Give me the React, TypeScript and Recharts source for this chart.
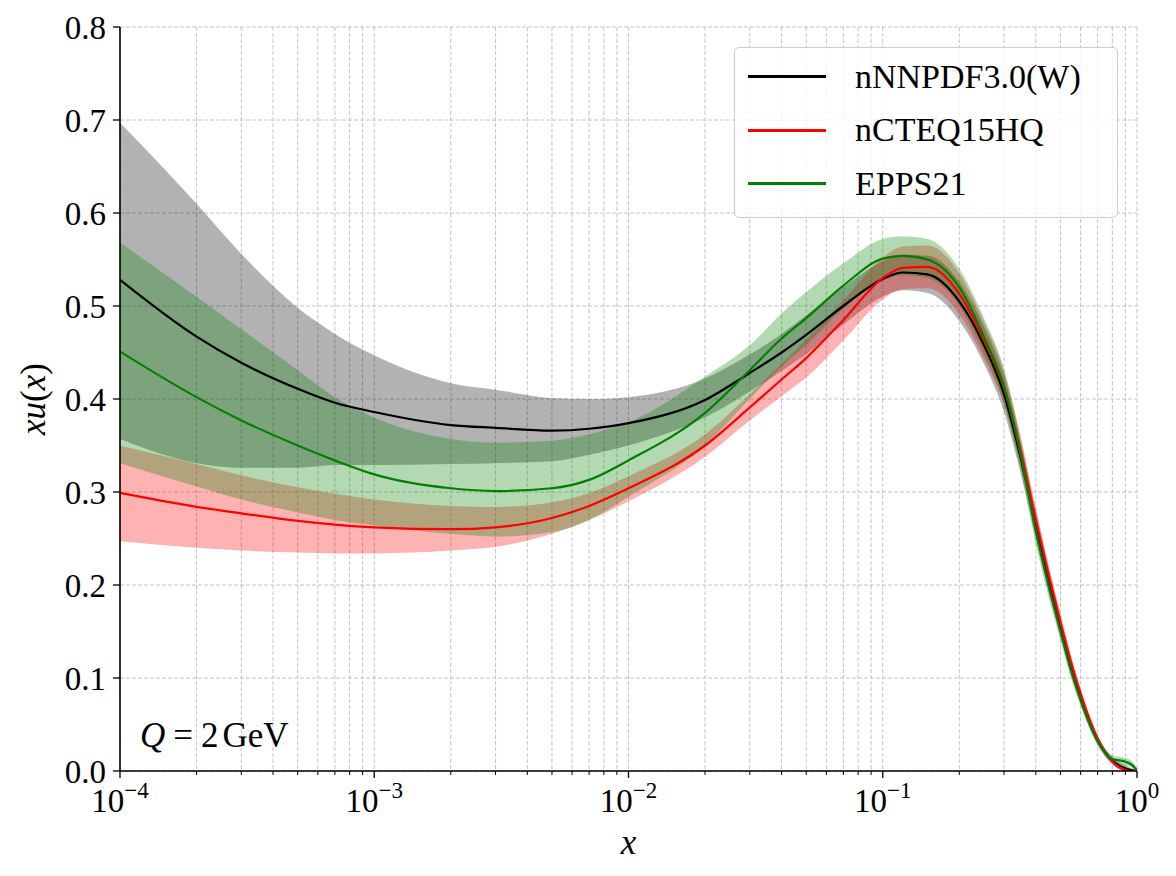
import React from 'react';
import { ComposedChart, Area, Line, XAxis, YAxis, CartesianGrid } from 'recharts';

// ---------------- data ----------------
const xValues = [1e-4, 2e-4, 3e-4, 5e-4, 7e-4, 1e-3, 2e-3, 3e-3, 5e-3, 7e-3, 1e-2, 2e-2, 3e-2, 4e-2, 5e-2, 7e-2, 0.1, 0.12, 0.15, 0.2, 0.25, 0.3, 0.35, 0.4, 0.45, 0.5, 0.55, 0.6, 0.7, 0.8, 0.9, 0.95, 1.0];

const nnpdfCentral = [0.528, 0.467, 0.439, 0.411, 0.396, 0.386, 0.372, 0.369, 0.366, 0.368, 0.374, 0.399, 0.428, 0.450, 0.469, 0.500, 0.529, 0.536, 0.534, 0.505, 0.458, 0.405, 0.335, 0.265, 0.205, 0.155, 0.113, 0.080, 0.033, 0.011, 0.003, 0.001, 0.0];
const nnpdfLow = [0.357, 0.331, 0.326, 0.326, 0.329, 0.329, 0.330, 0.331, 0.333, 0.340, 0.350, 0.380, 0.408, 0.430, 0.448, 0.480, 0.510, 0.517, 0.514, 0.484, 0.438, 0.386, 0.318, 0.250, 0.192, 0.145, 0.104, 0.073, 0.028, 0.007, 0.0, 0.0, 0.0];
const nnpdfHigh = [0.697, 0.610, 0.556, 0.498, 0.470, 0.447, 0.417, 0.410, 0.401, 0.400, 0.402, 0.422, 0.448, 0.470, 0.490, 0.520, 0.548, 0.555, 0.554, 0.526, 0.478, 0.424, 0.352, 0.280, 0.218, 0.166, 0.122, 0.087, 0.038, 0.015, 0.006, 0.003, 0.001];

const cteqCentral = [0.299, 0.284, 0.277, 0.269, 0.265, 0.262, 0.260, 0.262, 0.272, 0.285, 0.304, 0.350, 0.391, 0.421, 0.444, 0.485, 0.530, 0.541, 0.542, 0.513, 0.463, 0.412, 0.342, 0.270, 0.210, 0.160, 0.117, 0.083, 0.035, 0.010, 0.001, 0.0, 0.0];
const cteqLow = [0.247, 0.240, 0.237, 0.235, 0.234, 0.234, 0.237, 0.241, 0.255, 0.270, 0.290, 0.338, 0.377, 0.403, 0.423, 0.463, 0.507, 0.518, 0.519, 0.491, 0.443, 0.394, 0.326, 0.257, 0.199, 0.150, 0.109, 0.077, 0.031, 0.008, 0.0, 0.0, 0.0];
const cteqHigh = [0.350, 0.330, 0.318, 0.305, 0.298, 0.292, 0.285, 0.284, 0.289, 0.299, 0.317, 0.362, 0.405, 0.438, 0.464, 0.506, 0.552, 0.564, 0.565, 0.535, 0.483, 0.430, 0.358, 0.283, 0.221, 0.170, 0.125, 0.089, 0.039, 0.012, 0.002, 0.001, 0.0];

const eppsCentral = [0.451, 0.402, 0.377, 0.350, 0.334, 0.319, 0.304, 0.301, 0.304, 0.313, 0.334, 0.385, 0.431, 0.465, 0.487, 0.522, 0.551, 0.554, 0.550, 0.520, 0.467, 0.413, 0.338, 0.258, 0.198, 0.150, 0.108, 0.076, 0.032, 0.013, 0.010, 0.007, 0.001];
const eppsLow = [0.331, 0.306, 0.292, 0.278, 0.270, 0.264, 0.255, 0.252, 0.257, 0.270, 0.295, 0.350, 0.400, 0.435, 0.458, 0.497, 0.528, 0.533, 0.530, 0.500, 0.448, 0.395, 0.322, 0.244, 0.186, 0.140, 0.100, 0.070, 0.028, 0.010, 0.006, 0.004, 0.0];
const eppsHigh = [0.568, 0.510, 0.475, 0.431, 0.402, 0.380, 0.357, 0.353, 0.355, 0.362, 0.375, 0.424, 0.458, 0.492, 0.515, 0.546, 0.572, 0.575, 0.572, 0.540, 0.487, 0.432, 0.355, 0.272, 0.210, 0.160, 0.116, 0.082, 0.036, 0.017, 0.014, 0.011, 0.003];

const seriesNames = ['nNNPDF3.0(W)', 'nCTEQ15HQ', 'EPPS21'];
const seriesColors = ['#000000', '#ff0000', '#008000'];

const xMajorTicks = [1e-4, 1e-3, 1e-2, 1e-1, 1];
const xMajorExponents = ['\u22124', '\u22123', '\u22122', '\u22121', '0'];
const xMinorTicks = [
  2e-4, 3e-4, 4e-4, 5e-4, 6e-4, 7e-4, 8e-4, 9e-4,
  2e-3, 3e-3, 4e-3, 5e-3, 6e-3, 7e-3, 8e-3, 9e-3,
  2e-2, 3e-2, 4e-2, 5e-2, 6e-2, 7e-2, 8e-2, 9e-2,
  0.2, 0.3, 0.4, 0.5, 0.6, 0.7, 0.8, 0.9,
];
const yTicks = [0, 0.1, 0.2, 0.3, 0.4, 0.5, 0.6, 0.7, 0.8];
const yTickLabels = ['0.0', '0.1', '0.2', '0.3', '0.4', '0.5', '0.6', '0.7', '0.8'];

const annotation = 'Q = 2 GeV';

// ---------------- build table ----------------
const data = xValues.map((x, i) => ({
  x,
  nnpdf: nnpdfCentral[i],
  nnpdfBand: [nnpdfLow[i], nnpdfHigh[i]],
  cteq: cteqCentral[i],
  cteqBand: [cteqLow[i], cteqHigh[i]],
  epps: eppsCentral[i],
  eppsBand: [eppsLow[i], eppsHigh[i]],
}));

const allXTicks = [...xMajorTicks, ...xMinorTicks].sort((a, b) => a - b);

const FONT = '"Liberation Serif", "DejaVu Serif", serif';
const FS = 33;
const CURVE = 'monotoneX';

const majorIndex = (v: number) =>
  xMajorTicks.findIndex((m) => Math.abs(Math.log10(m) - Math.log10(v)) < 1e-6);

const XTick = (props: any) => {
  const { x, y, payload } = props;
  const idx = majorIndex(payload.value);
  const major = idx >= 0;
  return (
    <g>
      <line x1={x} x2={x} y1={y} y2={y + (major ? 7 : 4)} stroke="#000" strokeWidth={major ? 1.3 : 1} />
      {major && (
        <text x={x} y={y + 41} textAnchor="middle" fontFamily={FONT} fontSize={FS} fill="#000">
          10
          <tspan dy={-14} fontSize={23}>{xMajorExponents[idx]}</tspan>
        </text>
      )}
    </g>
  );
};

const YTick = (props: any) => {
  const { x, y, payload, index } = props;
  const i = yTicks.findIndex((t) => Math.abs(t - payload.value) < 1e-9);
  return (
    <g>
      <line x1={x - 7} x2={x} y1={y} y2={y} stroke="#000" strokeWidth={1.3} />
      <text x={x - 14} y={y + 12} textAnchor="end" fontFamily={FONT} fontSize={FS} fill="#000">
        {yTickLabels[i >= 0 ? i : index]}
      </text>
    </g>
  );
};

const XLabel = (props: any) => {
  const vb = props.viewBox || { x: 112, y: 763, width: 1017, height: 97 };
  return (
    <text x={vb.x + vb.width / 2} y={vb.y + 83} textAnchor="middle" fontFamily={FONT} fontSize={35} fontStyle="italic" fill="#000">
      x
    </text>
  );
};

const YLabel = (props: any) => {
  const vb = props.viewBox || { x: 0, y: 19, width: 112, height: 744 };
  const cx = vb.x + 37;
  const cy = vb.y + vb.height / 2;
  return (
    <text x={cx} y={cy} transform={`rotate(-90 ${cx} ${cy})`} textAnchor="middle" fontFamily={FONT} fontSize={35} fill="#000">
      <tspan fontStyle="italic">xu</tspan>(<tspan fontStyle="italic">x</tspan>)
    </text>
  );
};

export default function App() {
  const [qSym, ...rest] = annotation.split(' ');
  return (
    <div style={{ position: 'relative', width: 1160, height: 860 }}>
      <ComposedChart width={1160} height={860} data={data} margin={{ top: 19, right: 31, bottom: 0, left: 0 }}>
        <CartesianGrid stroke="#bdbdbd" strokeDasharray="4 2" strokeWidth={0.9} />
        <XAxis
          dataKey="x"
          type="number"
          scale="log"
          domain={[1e-4, 1]}
          allowDataOverflow
          ticks={allXTicks}
          interval={0}
          tick={<XTick />}
          tickLine={false}
          tickSize={0}
          tickMargin={0}
          height={97}
          axisLine={{ stroke: '#000', strokeWidth: 1.6 }}
          label={<XLabel />}
        />
        <XAxis
          xAxisId="top"
          dataKey="x"
          orientation="top"
          type="number"
          scale="log"
          domain={[1e-4, 1]}
          allowDataOverflow
          height={0}
          tick={false}
          tickLine={false}
          axisLine={{ stroke: '#000', strokeWidth: 1.6 }}
        />
        <YAxis
          type="number"
          domain={[0, 0.8]}
          allowDataOverflow
          ticks={yTicks}
          interval={0}
          tick={<YTick />}
          tickLine={false}
          tickSize={0}
          tickMargin={0}
          width={112}
          axisLine={{ stroke: '#000', strokeWidth: 1.6 }}
          label={<YLabel />}
        />
        <YAxis
          yAxisId="right"
          orientation="right"
          type="number"
          domain={[0, 0.8]}
          width={0}
          tick={false}
          tickLine={false}
          axisLine={{ stroke: '#000', strokeWidth: 1.6 }}
        />
        <Area dataKey="nnpdfBand" type={CURVE} fill="#000000" fillOpacity={0.3} stroke="none" isAnimationActive={false} activeDot={false} />
        <Area dataKey="cteqBand" type={CURVE} fill="#ff0000" fillOpacity={0.3} stroke="none" isAnimationActive={false} activeDot={false} />
        <Area dataKey="eppsBand" type={CURVE} fill="#008000" fillOpacity={0.3} stroke="none" isAnimationActive={false} activeDot={false} />
        <Line dataKey="nnpdf" type={CURVE} stroke={seriesColors[0]} strokeWidth={2.2} dot={false} activeDot={false} isAnimationActive={false} />
        <Line dataKey="cteq" type={CURVE} stroke={seriesColors[1]} strokeWidth={2.2} dot={false} activeDot={false} isAnimationActive={false} />
        <Line dataKey="epps" type={CURVE} stroke={seriesColors[2]} strokeWidth={2.2} dot={false} activeDot={false} isAnimationActive={false} />
        <text x={132} y={739} fontFamily={FONT} fontSize={35} fill="#000">
          <tspan fontStyle="italic">{qSym}</tspan>
          <tspan dx={8}>{rest[0]}</tspan>
          <tspan dx={8}>{rest[1]}</tspan>
          <tspan dx={4}>{rest[2]}</tspan>
        </text>
      </ComposedChart>
      <div
        style={{
          position: 'absolute',
          left: 726,
          top: 39,
          width: 384,
          height: 171,
          boxSizing: 'border-box',
          border: '1px solid #cccccc',
          borderRadius: 5,
          background: 'rgba(255,255,255,0.8)',
          paddingTop: 2,
          fontFamily: FONT,
          fontSize: 34,
          color: '#000',
        }}
      >
        {seriesNames.map((name, i) => (
          <div key={name} style={{ display: 'flex', alignItems: 'center', height: 53.5 }}>
            <div style={{ marginLeft: 13, width: 78, height: 2.6, background: seriesColors[i] }} />
            <div style={{ marginLeft: 29, lineHeight: '34px', whiteSpace: 'nowrap' }}>{name}</div>
          </div>
        ))}
      </div>
    </div>
  );
}
